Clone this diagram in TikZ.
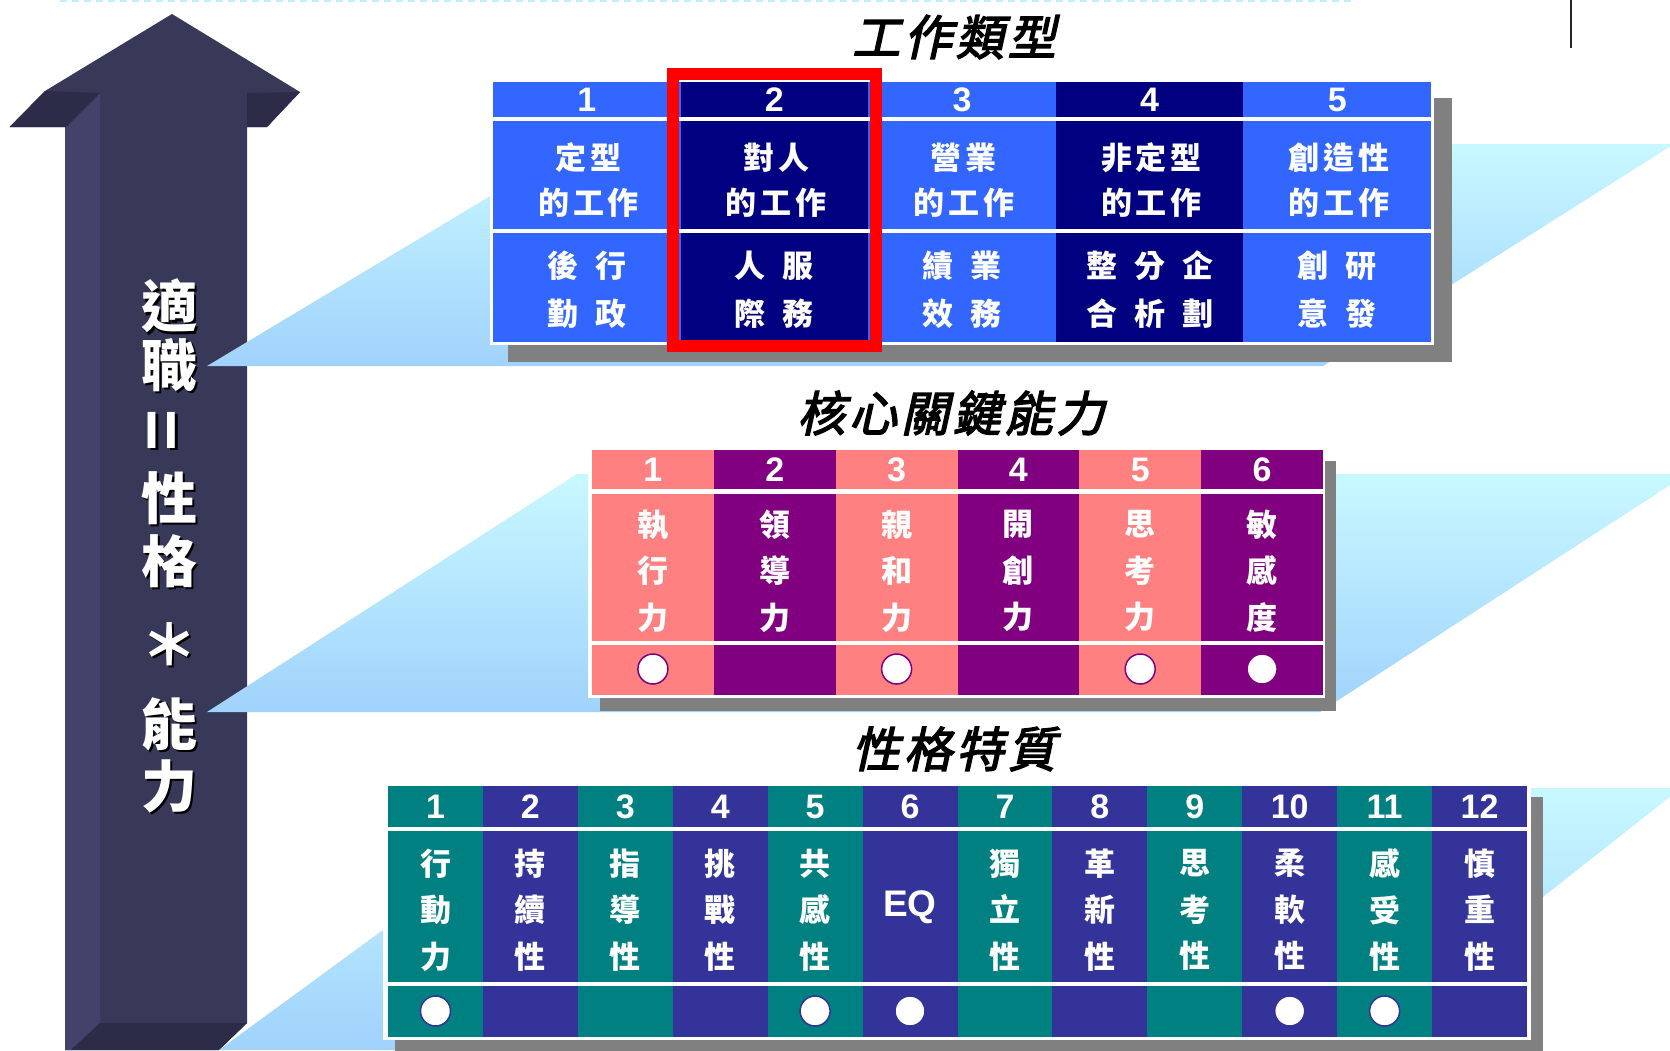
\documentclass[tikz,border=0pt]{standalone}
\usepackage{fontspec}
\setmainfont{Liberation Sans}
\newfontfamily\cjk{Noto Sans CJK TC}
\newfontfamily\cjkls{Noto Sans CJK TC}[LetterSpace=12]
\newfontfamily\cjkti{Noto Sans CJK TC}[FakeSlant=0.22,LetterSpace=8,FakeBold=3]
\definecolor{lb}{HTML}{3366FF}
\definecolor{nv}{HTML}{000080}
\definecolor{salm}{HTML}{FF8080}
\definecolor{purp}{HTML}{800080}
\definecolor{tealc}{HTML}{008080}
\definecolor{dblue}{HTML}{333399}
\definecolor{shgray}{HTML}{808080}
\definecolor{arrmain}{HTML}{383858}
\definecolor{arrlight}{HTML}{42426A}
\definecolor{arrdark}{HTML}{2C2C48}
\definecolor{planetop}{HTML}{C8F8FF}
\definecolor{planebot}{HTML}{A0D2FC}
\definecolor{dashc}{HTML}{C0EEFF}
\newcommand\gp{\hspace{17pt}}
\begin{document}
\begin{tikzpicture}[x=1pt,y=-1pt,
  num/.style={text=white,font=\bfseries\fontsize{34}{34}\selectfont,inner sep=0pt},
  rowa/.style={text=white,font=\cjkls\bfseries\fontsize{31}{45.5}\selectfont,align=center,inner sep=0pt},
  rowb/.style={text=white,font=\cjk\bfseries\fontsize{31}{48}\selectfont,align=center,inner sep=0pt},
  vtxt/.style={text=white,font=\cjk\bfseries\fontsize{31}{46.5}\selectfont,align=center,inner sep=0pt},
  ttl/.style={text=black,font=\cjkti\fontsize{48}{48}\selectfont,inner sep=0pt},
  atxt/.style={text=white,font=\cjk\bfseries\fontsize{56}{56}\selectfont,inner sep=0pt},
  circA/.style={circle,minimum size=30pt,inner sep=0pt,fill=white,draw=purp,line width=1.5pt},
  circB/.style={circle,minimum size=30pt,inner sep=0pt,fill=white,draw=dblue,line width=1.5pt},
  plane/.style={top color=planetop,bottom color=planebot,draw=none}]
\useasboundingbox (0,0) rectangle (1670,1050);
\clip (0,0) rectangle (1670,1050);
\fill[white] (0,0) rectangle (1670,1050);
% top decorations
\draw[dashc,line width=2pt,dash pattern=on 7pt off 5pt] (60,1) -- (1353,1);
\draw[black!85,line width=2pt] (1571,0) -- (1571,48);
% big arrow
\fill[arrmain] (172,14) -- (300,92) -- (267,127) -- (247,127) -- (247,1023) -- (219,1050) -- (65,1050) -- (65,127) -- (9.6,127) -- (45,91) -- cycle;
\fill[arrlight] (65,127) -- (100,93) -- (100,1023) -- (71,1050) -- (65,1050) -- cycle;
\fill[arrdark] (45,91) -- (100,93) -- (66,127) -- (9.6,127) -- cycle;
\fill[arrdark] (247,93) -- (300,92) -- (267,127) -- (247,127) -- cycle;
\fill[arrdark] (100,1023) -- (247,1023) -- (219,1050) -- (71,1050) -- cycle;
% planes
\path[plane] (207,366) -- (577,144) -- (1674,144) -- (1323,366) -- cycle;
\path[plane] (207,712) -- (577,474) -- (1687,474) -- (1320,712) -- cycle;
\path[plane] (219,1050) -- (577,788) -- (1681,788) -- (1349,1050) -- cycle;
% arrow text
\foreach \yy/\ch [count=\k] in {306/適,365/職,498/性,561/格,724/能,786/力}{
  \node[atxt,text=black] (as\k) at (171.5,\yy+2.5) {\ch};
  \node[atxt] (a\k) at (169,\yy) {\ch};
}
\node[atxt,text=black,font=\bfseries\fontsize{72}{72}\selectfont] (aeqs) at (169.5,432.5) {\rotatebox{90}{=}};
\node[atxt,font=\bfseries\fontsize{72}{72}\selectfont] (aeq) at (167,430) {\rotatebox{90}{=}};
\node[atxt,text=black] (asts) at (171.5,646.5) {＊};
\node[atxt] (ast) at (169,644) {＊};
% titles
\node[ttl] (t1) at (954,37) {工作類型};
\node[ttl] (t2) at (951,413) {核心關鍵能力};
\node[ttl] (t3) at (954,749) {性格特質};
% ---------- table 1
\fill[shgray] (508,98) rectangle (1452,362);
\fill[white] (490,80) rectangle (1434,345);
\foreach \i/\c in {0/lb,1/nv,2/lb,3/nv,4/lb}{
  \pgfmathsetmacro\xa{493+\i*187.6}
  \pgfmathsetmacro\xb{\xa+187.9}
  \fill[\c] (\xa,82) rectangle (\xb,117);
  \fill[\c] (\xa,121) rectangle (\xb,229);
  \fill[\c] (\xa,233) rectangle (\xb,342);
}
\node[num] (h11) at (586.8,100) {1};
\node[num] (h12) at (774.4,100) {2};
\node[num] (h13) at (962.0,100) {3};
\node[num] (h14) at (1149.6,100) {4};
\node[num] (h15) at (1337.2,100) {5};
\node[rowa] (r11) at (588.6,180) {定型\\的工作};
\node[rowa] (r12) at (776.2,180) {對人\\的工作};
\node[rowa] (r13) at (963.8,180) {營業\\的工作};
\node[rowa] (r14) at (1151.4,180) {非定型\\的工作};
\node[rowa] (r15) at (1339.0,180) {創造性\\的工作};
\node[rowb] (s11) at (586.8,290) {後\gp 行\\勤\gp 政};
\node[rowb] (s12) at (774.4,290) {人\gp 服\\際\gp 務};
\node[rowb] (s13) at (962.0,290) {績\gp 業\\效\gp 務};
\node[rowb] (s14) at (1149.6,290) {整\gp 分\gp 企\\合\gp 析\gp 劃};
\node[rowb] (s15) at (1337.2,290) {創\gp 研\\意\gp 發};
\draw[red,line width=12pt] (673,74) rectangle (876,346);
% ---------- table 2
\fill[shgray] (600,461) rectangle (1336,711);
\fill[white] (588,448) rectangle (1325,698);
\foreach \i/\c in {0/salm,1/purp,2/salm,3/purp,4/salm,5/purp}{
  \pgfmathsetmacro\xa{592+\i*121.83}
  \pgfmathsetmacro\xb{\xa+122.1}
  \fill[\c] (\xa,450) rectangle (\xb,489);
  \fill[\c] (\xa,494) rectangle (\xb,641);
  \fill[\c] (\xa,645) rectangle (\xb,695);
}
\node[num] (h21) at (652.9,470) {1};
\node[num] (h22) at (774.7,470) {2};
\node[num] (h23) at (896.6,470) {3};
\node[num] (h24) at (1018.4,470) {4};
\node[num] (h25) at (1140.2,470) {5};
\node[num] (h26) at (1262.1,470) {6};
\node[vtxt] (r21) at (652.9,571) {執\\行\\力};
\node[vtxt] (r22) at (774.7,571) {領\\導\\力};
\node[vtxt] (r23) at (896.6,571) {親\\和\\力};
\node[vtxt] (r24) at (1018.4,571) {開\\創\\力};
\node[vtxt] (r25) at (1140.2,571) {思\\考\\力};
\node[vtxt] (r26) at (1262.1,571) {敏\\感\\度};
\node[circA] (c21) at (652.9,669) {};
\node[circA] (c23) at (896.6,669) {};
\node[circA] (c25) at (1140.2,669) {};
\node[circA] (c26) at (1262.1,669) {};
% ---------- table 3
\fill[shgray] (395,797) rectangle (1543,1060);
\fill[white] (383,784) rectangle (1531,1040);
\foreach \i in {0,...,11}{
  \pgfmathtruncatemacro\odd{mod(\i,2)}
  \pgfmathsetmacro\xa{388+\i*94.917}
  \pgfmathsetmacro\xb{\xa+95.2}
  \ifnum\odd=0 \def\c{tealc}\else\def\c{dblue}\fi
  \fill[\c] (\xa,786) rectangle (\xb,827);
  \fill[\c] (\xa,831) rectangle (\xb,982);
  \fill[\c] (\xa,986) rectangle (\xb,1037);
}
\node[num] (h31) at (435.5,807) {1};
\node[num] (h32) at (530.4,807) {2};
\node[num] (h33) at (625.3,807) {3};
\node[num] (h34) at (720.2,807) {4};
\node[num] (h35) at (815.1,807) {5};
\node[num] (h36) at (910.0,807) {6};
\node[num] (h37) at (1005.0,807) {7};
\node[num] (h38) at (1099.9,807) {8};
\node[num] (h39) at (1194.8,807) {9};
\node[num] (h310) at (1289.7,807) {10};
\node[num] (h311) at (1384.6,807) {11};
\node[num] (h312) at (1479.5,807) {12};
\node[vtxt] (r31) at (435.5,910) {行\\動\\力};
\node[vtxt] (r32) at (530.4,910) {持\\續\\性};
\node[vtxt] (r33) at (625.3,910) {指\\導\\性};
\node[vtxt] (r34) at (720.2,910) {挑\\戰\\性};
\node[vtxt] (r35) at (815.1,910) {共\\感\\性};
\node[num,font=\bfseries\fontsize{37}{37}\selectfont] (r36) at (910.0,907) {EQ};
\node[vtxt] (r37) at (1005.0,910) {獨\\立\\性};
\node[vtxt] (r38) at (1099.9,910) {革\\新\\性};
\node[vtxt] (r39) at (1194.8,910) {思\\考\\性};
\node[vtxt] (r310) at (1289.7,910) {柔\\軟\\性};
\node[vtxt] (r311) at (1384.6,910) {感\\受\\性};
\node[vtxt] (r312) at (1479.5,910) {慎\\重\\性};
\node[circB] (c31) at (435.5,1011) {};
\node[circB] (c35) at (815.1,1011) {};
\node[circB] (c36) at (910.0,1011) {};
\node[circB] (c310) at (1289.7,1011) {};
\node[circB] (c311) at (1384.6,1011) {};
\end{tikzpicture}
\end{document}
